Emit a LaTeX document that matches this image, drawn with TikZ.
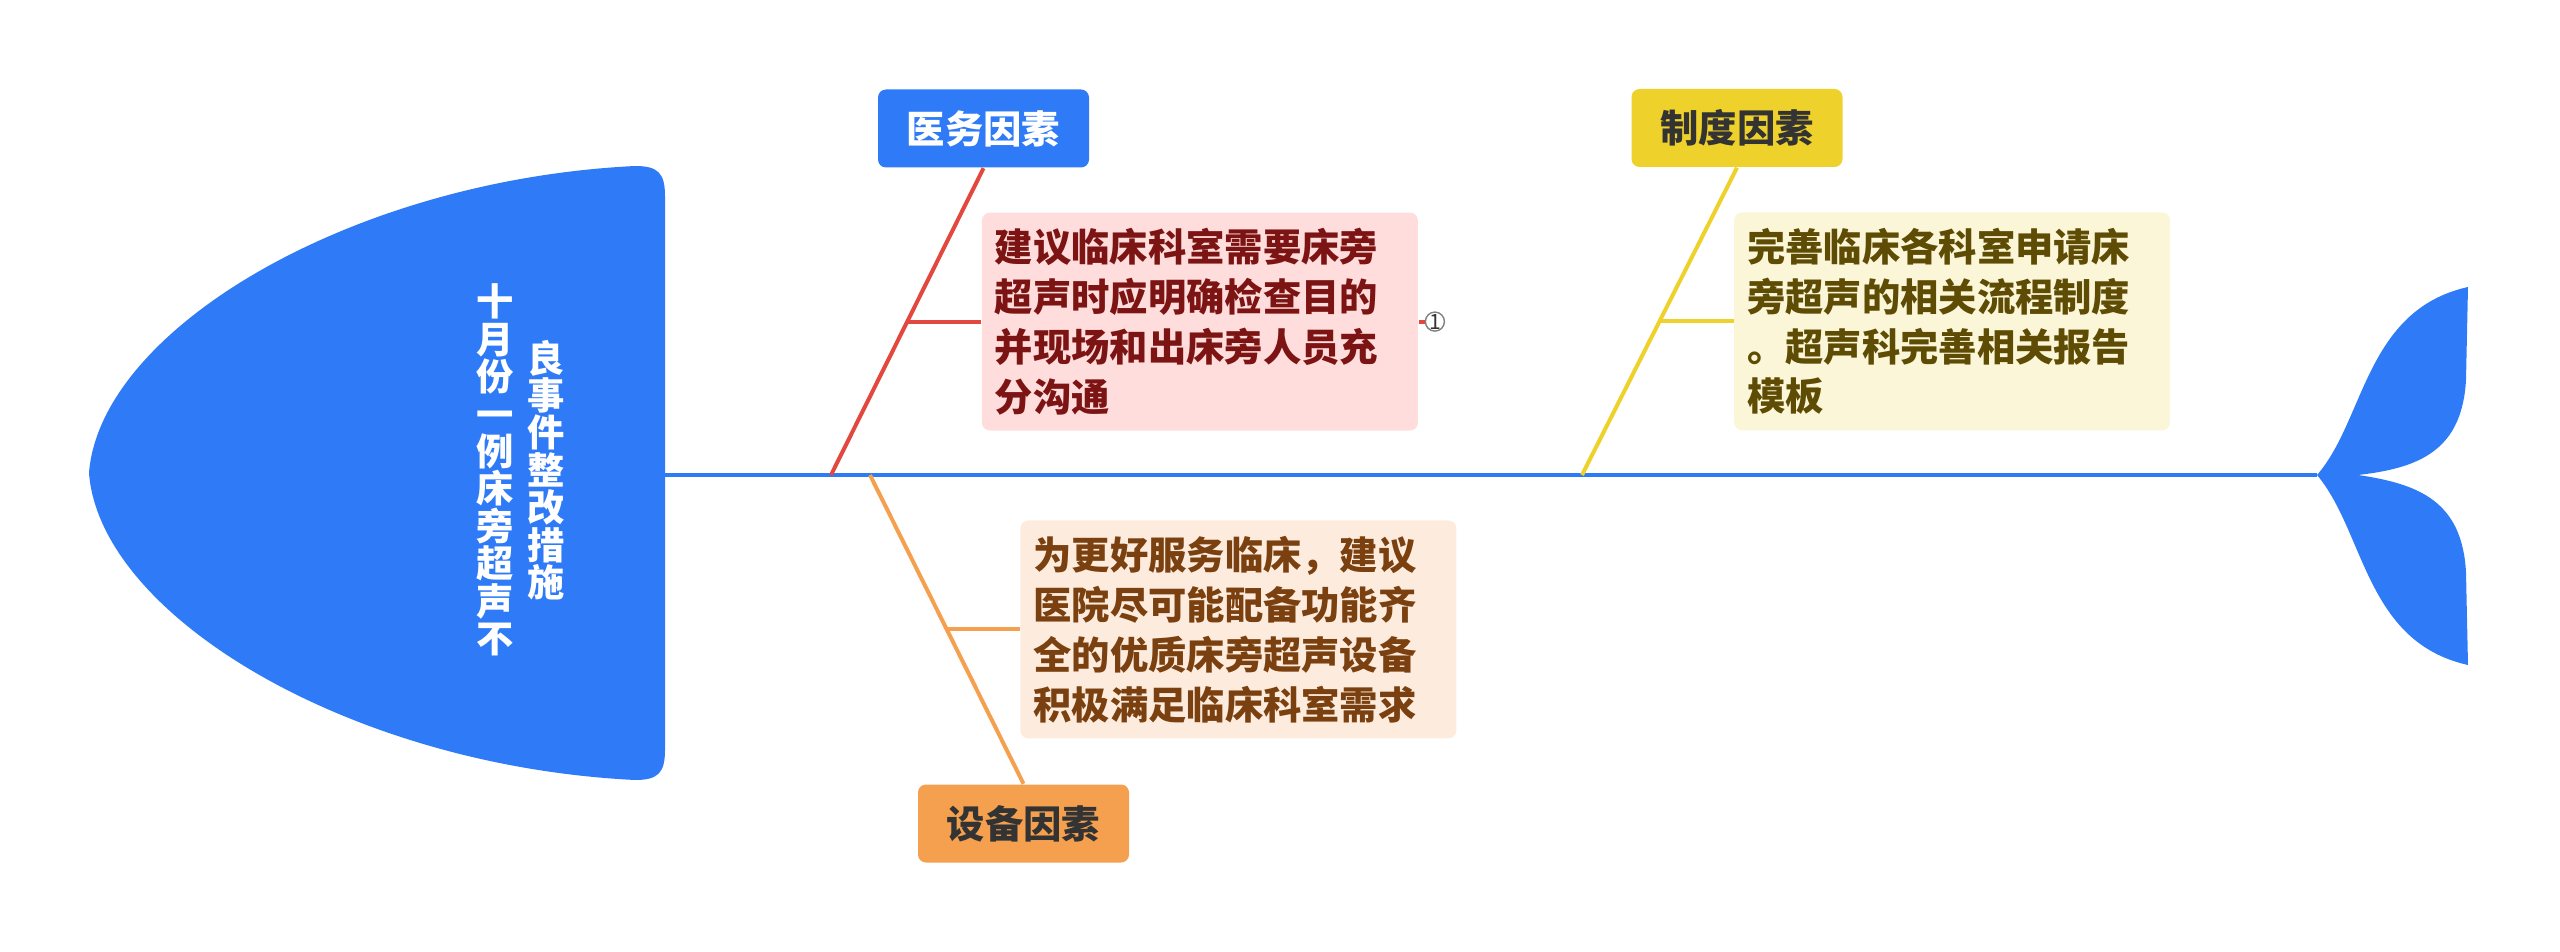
\documentclass[tikz,border=0pt]{standalone}
\usepackage{fontspec}
\setmainfont{Noto Sans CJK SC}
\usetikzlibrary{positioning, calc}

\definecolor{fishblue}{HTML}{2F7BF7}
\definecolor{medred}{HTML}{E2483D}
\definecolor{medpink}{HTML}{FFDDDD}
\definecolor{medtext}{HTML}{7D1414}
\definecolor{equiporange}{HTML}{F4A04F}
\definecolor{equippale}{HTML}{FDECDE}
\definecolor{equiptext}{HTML}{7A4010}
\definecolor{sysyellow}{HTML}{EFD12B}
\definecolor{syspale}{HTML}{FBF6D7}
\definecolor{systext}{HTML}{5E4C05}
\definecolor{darktext}{HTML}{333333}

\begin{document}
\begin{tikzpicture}[x=0.1mm, y=-0.1mm,
    factor/.style={rounded corners=0.8mm, minimum width=21.1mm, minimum height=7.8mm,
      font=\bfseries\fontsize{10.9}{13}\selectfont},
    detail/.style={rounded corners=0.8mm, text width=41mm, inner xsep=1.3mm, minimum height=21.8mm,
      align=left, font=\bfseries\fontsize{10.9}{14.2}\selectfont},
    headtext/.style={text=white, align=center, inner sep=0pt, font=\bfseries\fontsize{10.6}{10.65}\selectfont},
    bone/.style={line width=0.4mm}]
    \useasboundingbox (0,0) rectangle (2560,952);

    % spine
    \coordinate (spinestart) at (665,475);
    \coordinate (tailtip)    at (2317,475);
    \draw[line width=0.45mm, fishblue] (spinestart) -- (tailtip);

    % head
    \fill[fishblue] (89,473) .. controls (100,330) and (350,180) .. (635,166)
      .. controls (658,166) and (665,173) .. (665,196) -- (665,750)
      .. controls (665,773) and (658,780) .. (635,780)
      .. controls (350,766) and (100,616) .. (89,473) -- cycle;
    \node[headtext] (headl) at (495,470) {十\\月\\份\\一\\例\\床\\旁\\超\\声\\不};
    \node[headtext] (headr) at (546,470) {良\\事\\件\\整\\改\\措\\施};

    % tail
    \fill[fishblue] (tailtip) .. controls (2365,420) and (2365,310) .. (2468,287)
      -- (2466,380) .. controls (2462,450) and (2420,468) .. (2358,475)
      .. controls (2420,484) and (2462,502) .. (2466,572) -- (2468,665)
      .. controls (2365,642) and (2365,532) .. (tailtip) -- cycle;

    % factors
    \node[factor, fill=fishblue, text=white]    (med)   at (983.5,128.5) {医务因素};
    \node[factor, fill=equiporange, text=darktext] (equip) at (1023.5,823.5) {设备因素};
    \node[factor, fill=sysyellow, text=darktext]   (sys)   at (1737,128) {制度因素};

    \coordinate (medfoot)   at (831,475);
    \coordinate (equipfoot) at (870,475);
    \coordinate (sysfoot)   at (1582,475);
    \draw[bone, medred] (med.south) -- (medfoot);
    \draw[bone, equiporange] (equip.north) -- (equipfoot);
    \draw[bone, sysyellow] (sys.south) -- (sysfoot);

    \coordinate (medmid)   at ($(med.south)!0.5!(medfoot)$);
    \coordinate (equipmid) at ($(equip.north)!0.5!(equipfoot)$);
    \coordinate (sysmid)   at ($(sys.south)!0.5!(sysfoot)$);

    % details
    \node[detail, fill=medpink, text=medtext, right=7.4mm of medmid] (meddet)
      {建议临床科室需要床旁\\超声时应明确检查目的\\并现场和出床旁人员充\\分沟通};
    \node[detail, fill=equippale, text=equiptext, right=7.3mm of equipmid] (equipdet)
      {为更好服务临床，建议\\医院尽可能配备功能齐\\全的优质床旁超声设备\\积极满足临床科室需求};
    \node[detail, fill=syspale, text=systext, right=7.4mm of sysmid] (sysdet)
      {完善临床各科室申请床\\旁超声的相关流程制度\\。超声科完善相关报告\\模板};
    \draw[bone, medred] (medmid) -- (meddet.west);
    \draw[bone, equiporange] (equipmid) -- (equipdet.west);
    \draw[bone, sysyellow] (sysmid) -- (sysdet.west);

    % marker
    \node[circle, draw=gray, inner sep=0pt, minimum size=1.8mm, text=darktext,
      font=\fontsize{6}{6}\selectfont, right=0.6mm of meddet.east] (medmark) {1};
    \draw[medred, line width=0.4mm] (meddet.east) -- (medmark.west);
  \end{tikzpicture}
\end{document}
